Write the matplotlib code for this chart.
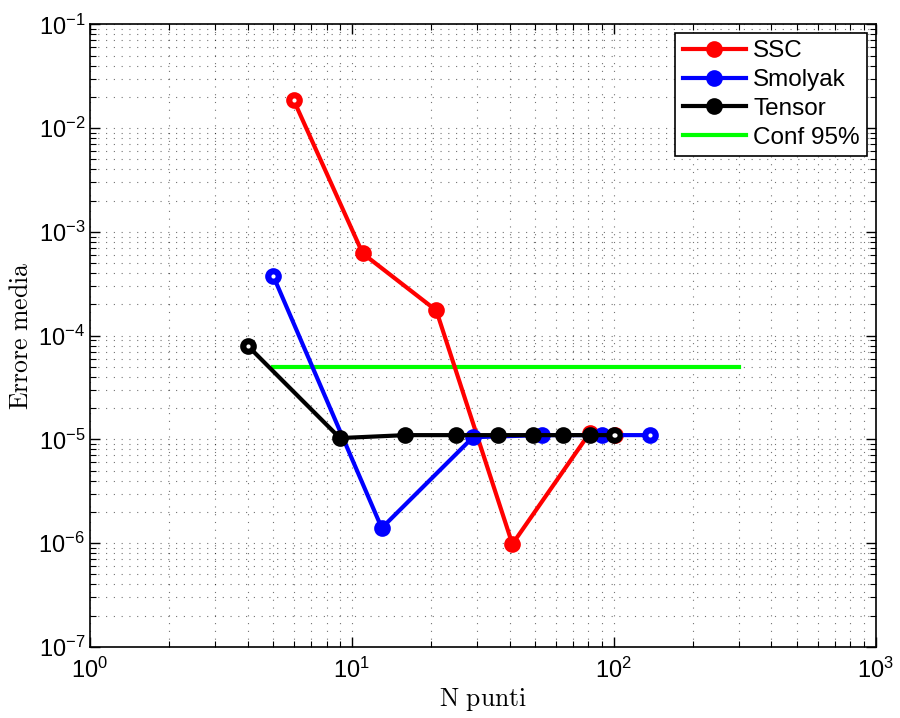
#!/usr/bin/env python3

import math
import matplotlib
matplotlib.use("Agg")
from matplotlib.pyplot import subplots, rcParams, savefig, close
from matplotlib.ticker import FixedLocator, FuncFormatter, NullFormatter

# errore sulla media al variare del numero di punti
n_ssc = [6, 11, 21, 41, 81, 101]
err_ssc = [1.85e-2, 6.2e-4, 1.75e-4, 9.8e-7, 1.16e-5, 1.1e-5]

n_smolyak = [5, 13, 29, 53, 90, 137]
err_smolyak = [3.8e-4, 1.4e-6, 1.05e-5, 1.1e-5, 1.1e-5, 1.1e-5]

n_tensor = [4, 9, 16, 25, 36, 49, 64, 81, 100]
err_tensor = [8.0e-5, 1.03e-5, 1.1e-5, 1.1e-5, 1.1e-5, 1.1e-5, 1.1e-5, 1.1e-5, 1.1e-5]

n_conf = [5, 300]
err_conf = [5e-5, 5e-5]

x_exp = [0, 1, 2, 3]
y_exp = [-7, -6, -5, -4, -3, -2, -1]

rcParams['font.family'] = ['Liberation Sans', 'DejaVu Sans']
rcParams['mathtext.fontset'] = 'custom'
rcParams['mathtext.rm'] = 'Liberation Sans'
rcParams['mathtext.it'] = 'Liberation Sans:italic'
rcParams['mathtext.bf'] = 'Liberation Sans:bold'

fig, ax = subplots(figsize=(9, 7.18), dpi=100)
fig.subplots_adjust(left=0.1, right=0.973, top=0.966, bottom=0.099)

series = [
    (n_ssc, err_ssc, (1, 0, 0), 'SSC'),
    (n_smolyak, err_smolyak, (0, 0, 1), 'Smolyak'),
    (n_tensor, err_tensor, (0, 0, 0), 'Tensor'),
]
for xs, ys, col, lab in series:
    ax.plot(xs, ys, '-o', color=col, lw=3, ms=10, mew=2, label=lab, zorder=3)
    # estremi disegnati come anelli
    ax.plot([xs[0], xs[-1]], [ys[0], ys[-1]], 'o', color='white', ms=3, mew=0, zorder=4)

ax.plot(n_conf, err_conf, '-', color=(0, 1, 0), lw=3, label='Conf 95%', zorder=2)

ax.set_xscale('log')
ax.set_yscale('log')
ax.set_xlim(10.0 ** x_exp[0], 10.0 ** x_exp[-1])
ax.set_ylim(10.0 ** y_exp[0], 10.0 ** y_exp[-1])

# tacche maggiori e minori solo dentro gli assi
ax.xaxis.set_major_locator(FixedLocator([10.0 ** e for e in x_exp]))
ax.yaxis.set_major_locator(FixedLocator([10.0 ** e for e in y_exp]))
ax.xaxis.set_minor_locator(FixedLocator([k * 10.0 ** e for e in x_exp[:-1] for k in range(2, 10)]))
ax.yaxis.set_minor_locator(FixedLocator([k * 10.0 ** e for e in y_exp[:-1] for k in range(2, 10)]))
fmt = FuncFormatter(lambda v, p: r'$10^{%d}$' % round(math.log10(v)))
ax.xaxis.set_major_formatter(fmt)
ax.yaxis.set_major_formatter(fmt)
ax.xaxis.set_minor_formatter(NullFormatter())
ax.yaxis.set_minor_formatter(NullFormatter())

ax.tick_params(which='both', direction='in', top=True, right=True, labelsize=17)
ax.tick_params(which='major', length=7, width=1)
ax.tick_params(which='minor', length=4, width=0.8, labelbottom=False, labelleft=False)
ax.tick_params(axis='x', which='major', pad=8)

ax.grid(True, which='both', linestyle=(0, (1, 6)), color='k', lw=0.8, alpha=0.55)
for sp in ax.spines.values():
    sp.set_linewidth(1.2)

ax.set_xlabel(r'$\mathrm{N\ punti}$', fontsize=18.5, math_fontfamily='cm', labelpad=2)
ax.set_ylabel(r'$\mathrm{Errore\ media}$', fontsize=18.5, math_fontfamily='cm', labelpad=4)

leg = ax.legend(loc='upper right', fontsize=17.5, fancybox=False, framealpha=1,
                edgecolor='k', handlelength=2.6, borderaxespad=0.35,
                labelspacing=0.28, handletextpad=0.3, borderpad=0.3)
leg.get_frame().set_linewidth(1.2)

savefig('out.png', dpi=100)
close(fig)
